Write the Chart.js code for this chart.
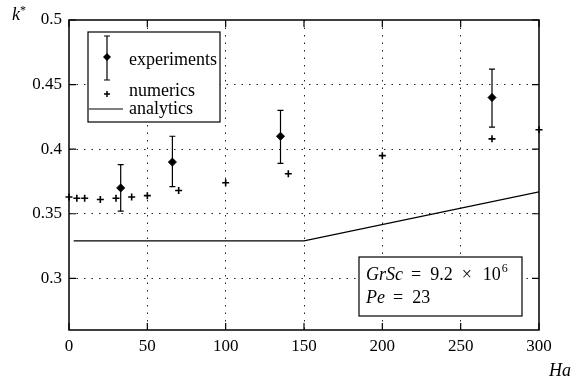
<!DOCTYPE html>
<html>
<head>
<meta charset="utf-8">
<script src="https://cdn.jsdelivr.net/npm/chart.js@4/dist/chart.umd.min.js"></script>
<style>
  html, body { margin: 0; padding: 0; background: #fff; }
  #wrap { width: 577px; height: 381px; }
</style>
</head>
<body>
<div id="wrap"><canvas id="kChart" width="577" height="381"></canvas></div>
<script>
// experiments, with error bars
const expHa = [33, 66, 135, 270];
const expK = [0.370, 0.390, 0.410, 0.440];
const expLow = [0.352, 0.371, 0.389, 0.417];
const expHigh = [0.388, 0.410, 0.430, 0.462];

// numerics
const numHa = [0, 5, 10, 20, 30, 40, 50, 70, 100, 140, 200, 270, 300];
const numK = [0.363, 0.362, 0.362, 0.361, 0.362, 0.363, 0.364, 0.368, 0.374, 0.381, 0.395, 0.408, 0.415];

// analytics
const anaHa = [3, 150, 300];
const anaK = [0.329, 0.329, 0.367];

const xTicks = [0, 50, 100, 150, 200, 250, 300];
const yTicks = [0.3, 0.35, 0.4, 0.45, 0.5];

const serif = "'Liberation Serif', 'DejaVu Serif', serif";
Chart.defaults.font.family = serif;
Chart.defaults.color = '#000';

const toPts = (xs, ys) => xs.map((x, i) => ({ x: x, y: ys[i] }));

// draw a row of text pieces, each with its own font and vertical shift
function drawRuns(ctx, x, y, runs) {
    runs.forEach(r => {
        ctx.font = r.font;
        ctx.fillText(r.text, x, y + (r.dy || 0));
        x += ctx.measureText(r.text).width + (r.gap || 0);
    });
}

const framePlugin = {
    id: 'framePlugin',
    afterDatasetsDraw(chart) {
        const ctx = chart.ctx, xs = chart.scales.x, ys = chart.scales.y;
        ctx.save();
        ctx.strokeStyle = '#000';
        ctx.lineWidth = 1.2;
        expHa.forEach((ha, i) => {
            const px = xs.getPixelForValue(ha);
            const top = ys.getPixelForValue(expHigh[i]);
            const bot = ys.getPixelForValue(expLow[i]);
            ctx.beginPath();
            ctx.moveTo(px, top); ctx.lineTo(px, bot);
            ctx.moveTo(px - 3, top); ctx.lineTo(px + 3, top);
            ctx.moveTo(px - 3, bot); ctx.lineTo(px + 3, bot);
            ctx.stroke();
        });
        ctx.restore();
    },
    afterDraw(chart) {
        const ctx = chart.ctx, a = chart.chartArea;
        const xs = chart.scales.x, ys = chart.scales.y;
        ctx.save();
        ctx.strokeStyle = '#000';
        ctx.fillStyle = '#000';

        // frame and inward ticks
        ctx.lineWidth = 1.5;
        ctx.strokeRect(a.left, a.top, a.right - a.left, a.bottom - a.top);
        ctx.lineWidth = 1.2;
        ctx.beginPath();
        xTicks.forEach(v => {
            const px = xs.getPixelForValue(v);
            ctx.moveTo(px, a.bottom); ctx.lineTo(px, a.bottom - 7);
            ctx.moveTo(px, a.top); ctx.lineTo(px, a.top + 7);
        });
        yTicks.forEach(v => {
            const py = ys.getPixelForValue(v);
            ctx.moveTo(a.left, py); ctx.lineTo(a.left + 7, py);
            ctx.moveTo(a.right, py); ctx.lineTo(a.right - 7, py);
        });
        ctx.stroke();

        // legend box
        const ds = chart.data.datasets;
        ctx.fillStyle = '#fff';
        ctx.fillRect(88, 32, 132, 90);
        ctx.lineWidth = 1.2;
        ctx.strokeRect(88, 32, 132, 90);
        ctx.fillStyle = '#000';
        ctx.font = '18px ' + serif;
        ctx.textBaseline = 'middle';
        ctx.textAlign = 'left';
        const rows = [60, 91, 109];
        ds.forEach((d, i) => ctx.fillText(d.label, 129, rows[i]));
        // experiments glyph
        ctx.beginPath();
        ctx.moveTo(107, 36); ctx.lineTo(107, 80);
        ctx.moveTo(104, 36); ctx.lineTo(110, 36);
        ctx.moveTo(104, 80); ctx.lineTo(110, 80);
        ctx.stroke();
        ctx.beginPath();
        ctx.moveTo(107, 53); ctx.lineTo(111, 57); ctx.lineTo(107, 61); ctx.lineTo(103, 57);
        ctx.closePath(); ctx.fill();
        // numerics glyph
        ctx.lineWidth = 1.5;
        ctx.beginPath();
        ctx.moveTo(104, 94); ctx.lineTo(110, 94);
        ctx.moveTo(107, 91); ctx.lineTo(107, 97);
        ctx.stroke();
        // analytics glyph
        ctx.lineWidth = 1.2;
        ctx.beginPath();
        ctx.moveTo(89, 109); ctx.lineTo(123, 109);
        ctx.stroke();

        // parameter box
        ctx.fillStyle = '#fff';
        ctx.fillRect(359, 257, 163, 59);
        ctx.strokeRect(359, 257, 163, 59);
        ctx.fillStyle = '#000';
        const it = 'italic 18px ' + serif, up = '18px ' + serif;
        drawRuns(ctx, 366, 275, [
            { text: 'GrSc', font: it, gap: 8 },
            { text: '=', font: up, gap: 9 },
            { text: '9.2', font: up, gap: 9 },
            { text: '×', font: up, gap: 11 },
            { text: '10', font: up, gap: 1 },
            { text: '6', font: '12px ' + serif, dy: -6 }
        ]);
        drawRuns(ctx, 366, 298, [
            { text: 'Pe', font: it, gap: 8 },
            { text: '=', font: up, gap: 9 },
            { text: '23', font: up }
        ]);

        // axis titles
        drawRuns(ctx, 12, 15, [
            { text: 'k', font: it, gap: 0 },
            { text: '*', font: '12px ' + serif, dy: -4 }
        ]);
        drawRuns(ctx, 549, 371, [{ text: 'Ha', font: it }]);
        ctx.restore();
    }
};

const gridColor = (edges) => (c) => edges.includes(c.tick && c.tick.value) ? 'rgba(0,0,0,0)' : '#222';

new Chart(document.getElementById('kChart').getContext('2d'), {
    type: 'scatter',
    data: {
        datasets: [{
            label: 'experiments',
            data: toPts(expHa, expK),
            pointStyle: 'rectRot',
            pointRadius: 4,
            backgroundColor: '#000',
            borderColor: '#000',
            borderWidth: 1,
            clip: false
        }, {
            label: 'numerics',
            data: toPts(numHa, numK),
            pointStyle: 'cross',
            pointRadius: 3.5,
            borderColor: '#000',
            borderWidth: 1.6,
            clip: false
        }, {
            label: 'analytics',
            type: 'line',
            data: toPts(anaHa, anaK),
            showLine: true,
            pointRadius: 0,
            borderColor: '#000',
            borderWidth: 1.3,
            fill: false
        }]
    },
    options: {
        responsive: false,
        animation: false,
        devicePixelRatio: 1,
        layout: { padding: { top: 20, right: 38, left: 0, bottom: 0 } },
        plugins: { legend: { display: false }, tooltip: { enabled: false } },
        scales: {
            x: {
                type: 'linear',
                min: 0, max: 300,
                afterBuildTicks: s => { s.ticks = xTicks.map(v => ({ value: v })); },
                afterFit: s => { s.height = 51; },
                ticks: {
                    color: '#000',
                    font: { family: serif, size: 17 },
                    padding: 6,
                    maxRotation: 0,
                    callback: v => String(v)
                },
                grid: { color: gridColor([0, 300]), lineWidth: 1, drawTicks: false },
                border: { display: false, dash: [1.5, 6] }
            },
            y: {
                type: 'linear',
                min: 0.26, max: 0.5,
                afterBuildTicks: s => { s.ticks = yTicks.map(v => ({ value: v })); },
                afterFit: s => { s.width = 69; },
                ticks: {
                    color: '#000',
                    font: { family: serif, size: 17 },
                    padding: 7,
                    callback: v => String(+v.toFixed(2))
                },
                grid: { color: gridColor([0.5]), lineWidth: 1, drawTicks: false },
                border: { display: false, dash: [1.5, 6] }
            }
        }
    },
    plugins: [framePlugin]
});
</script>
</body>
</html>
